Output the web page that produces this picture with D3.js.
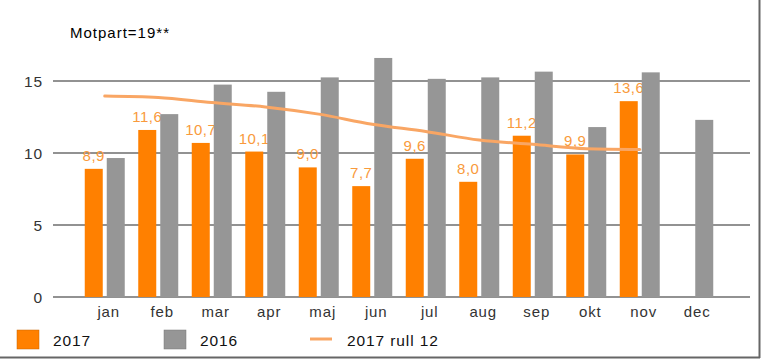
<!DOCTYPE html>
<html><head><meta charset="utf-8">
<script src="https://cdn.jsdelivr.net/npm/d3@7"></script>
<style>body{margin:0;background:#fff}svg{display:block;font-family:"Liberation Sans",Arial,sans-serif}</style>
</head><body><svg id="c" width="761" height="359"></svg>
<script>
const months = ["jan","feb","mar","apr","maj","jun","jul","aug","sep","okt","nov","dec"];
const values2017 = [8.9,11.6,10.7,10.1,9.0,7.7,9.6,8.0,11.2,9.9,13.6,null];
const values2016 = [9.65,12.7,14.75,14.25,15.25,16.6,15.15,15.25,15.65,11.8,15.6,12.3];
const rull12 = [13.95,13.85,13.5,13.2,12.7,12.0,11.5,10.9,10.6,10.3,10.25,null];
const yTicks = [0,5,10,15];
const labels2017 = ["8,9","11,6","10,7","10,1","9,0","7,7","9,6","8,0","11,2","9,9","13,6",""];

const svg = d3.select("#c");
const x = d3.scaleBand().domain(months).range([78,720]).paddingInner(0).paddingOuter(0);
const y = d3.scaleLinear().domain([0,15]).range([297,81]);
const orange="#ff8000", gray="#969696", lineC="#f9a664";
const LS = "0.9px";

// grid
svg.append("g").selectAll("line").data(yTicks).join("line")
  .attr("x1",53).attr("x2",750).attr("y1",d=>y(d)).attr("y2",d=>y(d))
  .attr("stroke","#6e6e6e").attr("stroke-width",1.3);
svg.append("g").selectAll("text").data(yTicks).join("text")
  .attr("x",43).attr("y",d=>y(d)+5.5).attr("text-anchor","end")
  .attr("font-size",15.5).attr("letter-spacing",LS).attr("fill","#333").text(d=>d);

const bw=18, gap=4;
const cx = m => x(m)+x.bandwidth()/2;
// orange bars
svg.append("g").selectAll("rect").data(months.map((m,i)=>({m,v:values2017[i]})).filter(d=>d.v!=null)).join("rect")
  .attr("x",d=>cx(d.m)-gap/2-bw).attr("width",bw)
  .attr("y",d=>y(d.v)).attr("height",d=>y(0)-y(d.v)).attr("fill",orange);
// labels
svg.append("g").selectAll("text").data(months.map((m,i)=>({m,v:values2017[i],t:labels2017[i]})).filter(d=>d.v!=null)).join("text")
  .attr("x",d=>cx(d.m)-gap/2-bw/2).attr("y",d=>y(d.v)-8).attr("text-anchor","middle")
  .attr("font-size",15).attr("letter-spacing","0.5px").attr("fill","#f99a3c").text(d=>d.t);
// gray bars
svg.append("g").selectAll("rect").data(months.map((m,i)=>({m,v:values2016[i]}))).join("rect")
  .attr("x",d=>cx(d.m)+gap/2).attr("width",bw)
  .attr("y",d=>y(d.v)).attr("height",d=>y(0)-y(d.v)).attr("fill",gray);
// line
const pts = months.map((m,i)=>({m,v:rull12[i]})).filter(d=>d.v!=null);
svg.append("path").datum(pts)
  .attr("d",d3.line().x(d=>cx(d.m)).y(d=>y(d.v)).curve(d3.curveMonotoneX))
  .attr("fill","none").attr("stroke",lineC).attr("stroke-width",3).attr("stroke-linecap","round");
// x labels
svg.append("g").selectAll("text").data(months).join("text")
  .attr("x",d=>cx(d)+4).attr("y",317).attr("text-anchor","middle")
  .attr("font-size",15).attr("letter-spacing",LS).attr("fill","#333").text(d=>d);
// title
svg.append("text").attr("x",70).attr("y",38).attr("font-size",15).attr("letter-spacing","1px").attr("fill","#000").text("Motpart=19**");
// legend
svg.append("rect").attr("x",17).attr("y",330).attr("width",22).attr("height",19).attr("fill",orange).attr("stroke","#c86400").attr("stroke-width",0.5);
svg.append("text").attr("x",53).attr("y",346).attr("font-size",15.5).attr("letter-spacing",LS).attr("fill","#111").text("2017");
svg.append("rect").attr("x",164).attr("y",330).attr("width",22).attr("height",19).attr("fill",gray).attr("stroke","#777").attr("stroke-width",0.5);
svg.append("text").attr("x",200).attr("y",346).attr("font-size",15.5).attr("letter-spacing",LS).attr("fill","#111").text("2016");
svg.append("line").attr("x1",310).attr("x2",332).attr("y1",339).attr("y2",339).attr("stroke",lineC).attr("stroke-width",3);
svg.append("text").attr("x",347).attr("y",346).attr("font-size",15.5).attr("letter-spacing",LS).attr("fill","#111").text("2017 rull 12");
// border
svg.append("line").attr("x1",759.5).attr("x2",759.5).attr("y1",0).attr("y2",358).attr("stroke","#666").attr("stroke-width",2);
svg.append("line").attr("x1",0).attr("x2",760).attr("y1",357.5).attr("y2",357.5).attr("stroke","#666").attr("stroke-width",2);
</script></body></html>
